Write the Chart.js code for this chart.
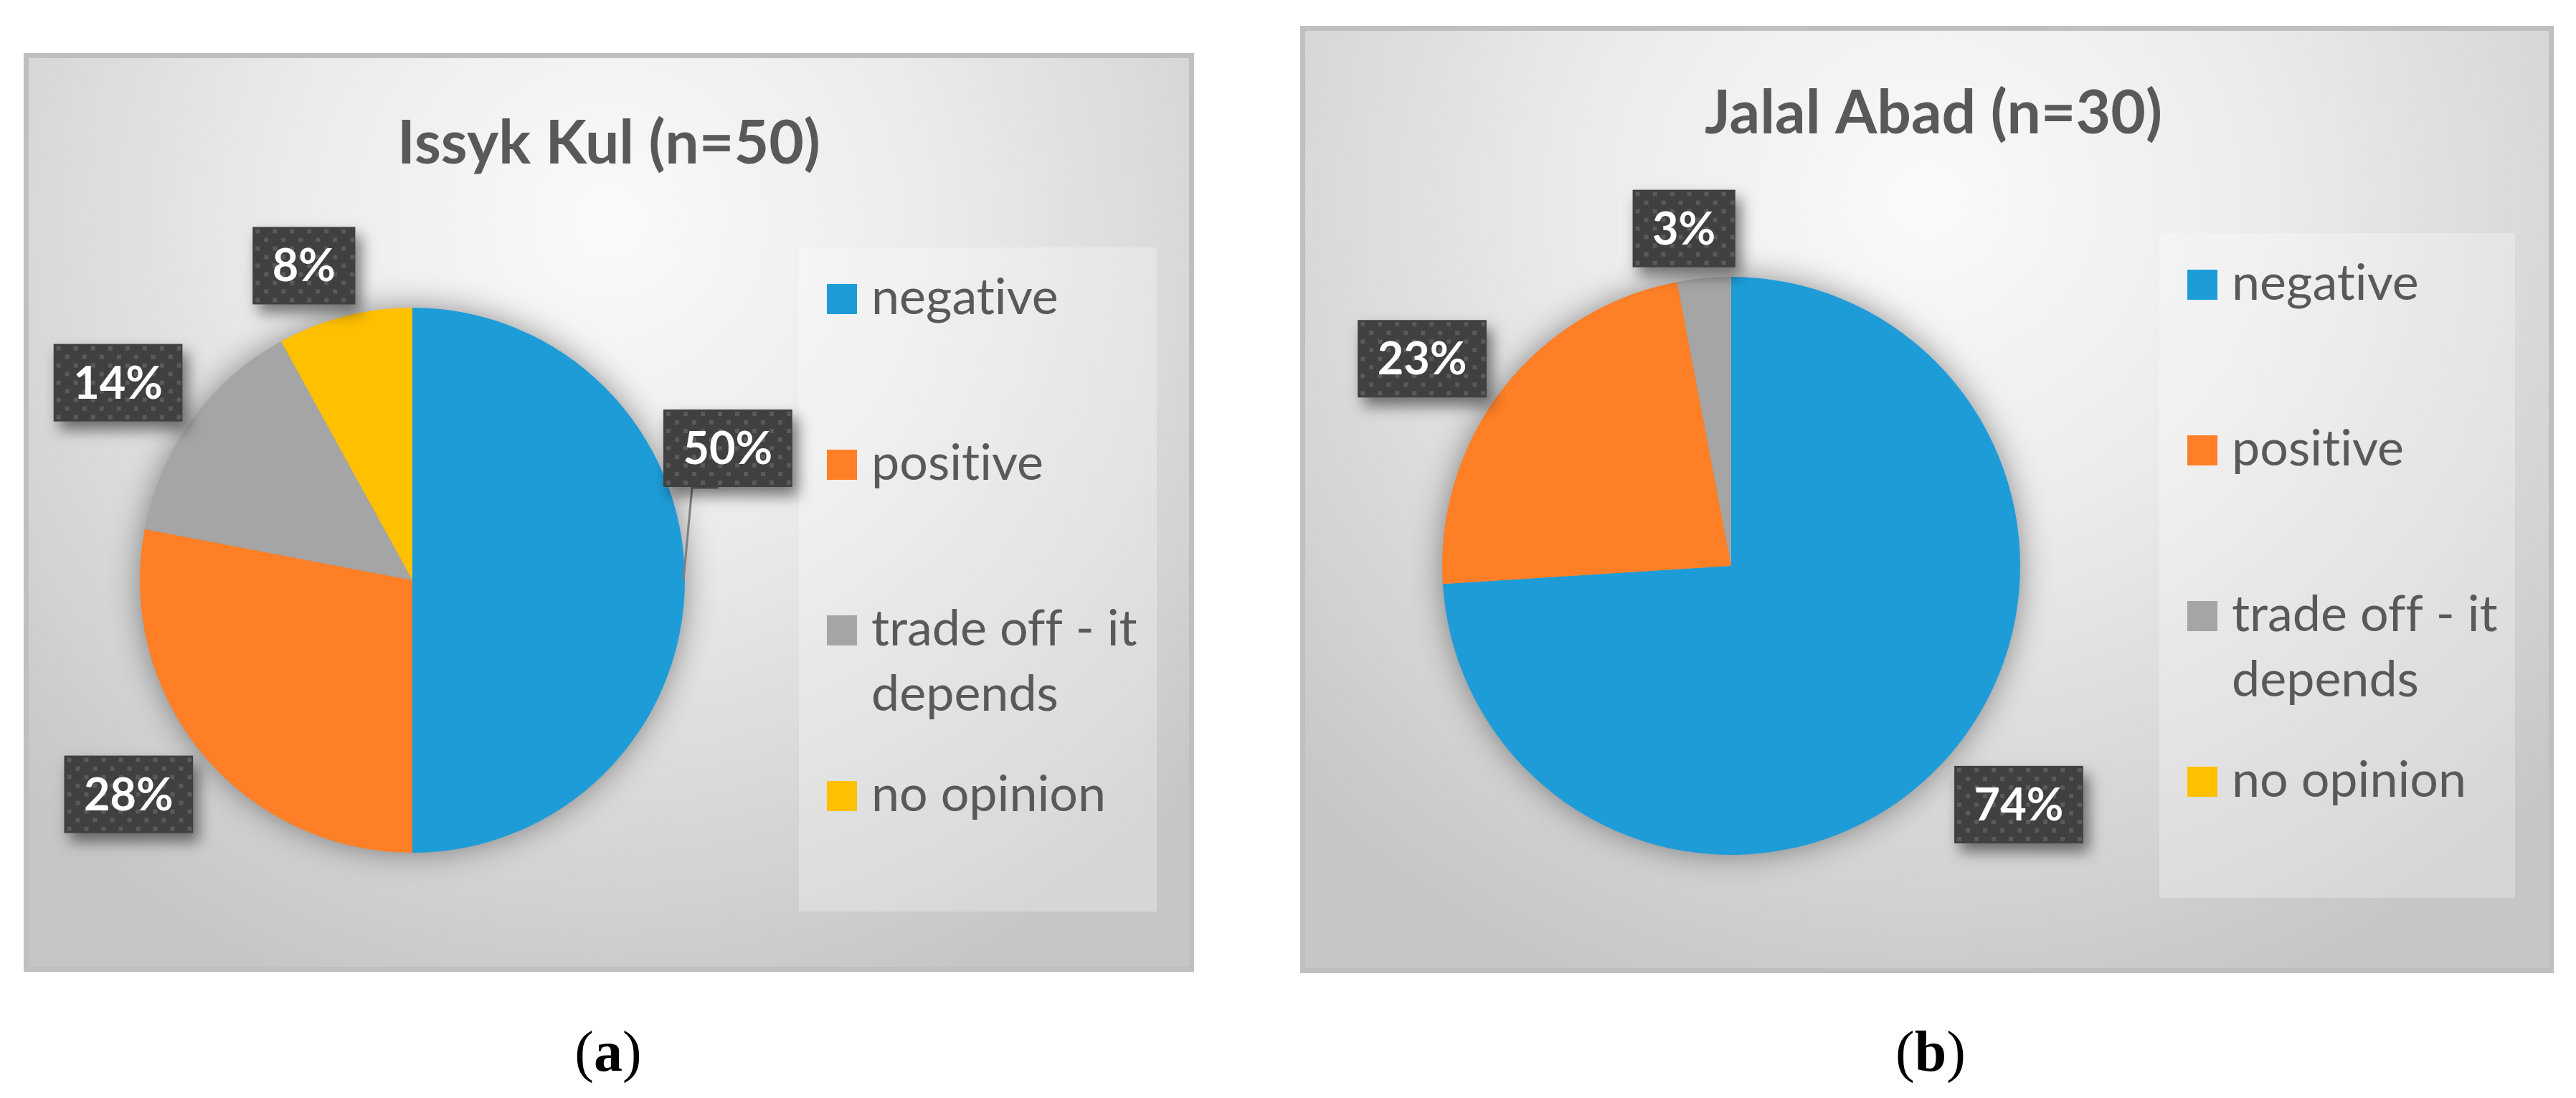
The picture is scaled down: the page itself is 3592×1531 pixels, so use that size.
<!DOCTYPE html>
<html>
<head>
<meta charset="utf-8">
<script src="https://cdn.jsdelivr.net/npm/chart.js@4.4.1/dist/chart.umd.min.js"></script>
<style>
  html, body { margin: 0; padding: 0; background: #fff; }
  body { width: 3592px; height: 1531px; position: relative; overflow: hidden; }
  .panel {
    position: absolute; box-sizing: border-box; border: 7px solid #bfbfbf;
    background: radial-gradient(ellipse 70% 90% at 50% 18%, #fafafa 0%, #ebebeb 40%, #d3d3d3 80%, #c6c6c6 100%);
  }
  .panel .inner { position: absolute; left: 0; top: 0; right: 0; bottom: 0; }
  .sub {
    position: absolute; width: 400px; text-align: center; color: #000;
    font-family: "Liberation Serif", serif; font-size: 80px; line-height: 80px;
  }
</style>
</head>
<body>
<div class="panel" style="left:33px;top:74px;width:1632px;height:1281px"><div class="inner"><canvas id="chartA"></canvas></div></div>
<div class="panel" style="left:1813px;top:36px;width:1748px;height:1321px"><div class="inner"><canvas id="chartB"></canvas></div></div>
<div class="sub" style="left:648px;top:1426px">(<b>a</b>)</div>
<div class="sub" style="left:2492px;top:1426px">(<b>b</b>)</div>

<script>
// données
const categories = ['negative', 'positive', 'trade off - it depends', 'no opinion'];
const issykKulValues = [50, 28, 14, 8];
const jalalAbadValues = [74, 23, 3, 0];
const sliceColors = ['#1e9cd8', '#fe7f26', '#a5a5a5', '#ffc000'];
const chartTitles = ['Issyk Kul (n=50)', 'Jalal Abad (n=30)'];

const textGrey = '#595959';

// motif "pointillé" des étiquettes
const dotTile = document.createElement('canvas');
dotTile.width = 24; dotTile.height = 24;
(function () {
    const g = dotTile.getContext('2d');
    g.fillStyle = '#404040';
    g.fillRect(0, 0, 24, 24);
    g.fillStyle = '#5a5a5a';
    g.fillRect(4, 3, 6, 6);
    g.fillRect(16, 15, 6, 6);
})();

// pas de ligature "ti" (Lato) : on casse la ligature au dessin
function noLig(s) {
    return s.replace(/t(?=i)/g, 't\u200C').replace(/f(?=f|i|l)/g, 'f\u200C');
}

function wrapText(ctx, text, maxWidth) {
    const words = text.split(' ');
    const lines = [];
    let line = '';
    words.forEach(w => {
        const test = line ? line + ' ' + w : w;
        if (ctx.measureText(test).width > maxWidth && line) {
            lines.push(line);
            line = w;
        } else {
            line = test;
        }
    });
    if (line) lines.push(line);
    return lines;
}

const excelDecor = {
    id: 'excelDecor',
    beforeDatasetsDraw(chart, args, opts) {
        const ctx = chart.ctx;
        const first = chart.getDatasetMeta(0).data[0];
        const lb = opts.legendBox;

        ctx.save();
        // fond de la légende
        ctx.fillStyle = 'rgba(255,255,255,0.28)';
        ctx.fillRect(lb.x, lb.y, lb.w, lb.h);

        // ombre du camembert
        ctx.shadowColor = 'rgba(0,0,0,0.45)';
        ctx.shadowBlur = 45;
        ctx.fillStyle = '#9a9a9a';
        ctx.beginPath();
        ctx.arc(first.x, first.y, first.outerRadius - 2, 0, Math.PI * 2);
        ctx.fill();
        ctx.restore();

        // titre
        ctx.save();
        ctx.font = 'bold 84px Lato';
        ctx.fillStyle = textGrey;
        ctx.textAlign = 'center';
        ctx.textBaseline = 'alphabetic';
        ctx.fillText(opts.title, opts.titleX, opts.titleBaseline);
        ctx.restore();
    },
    afterDatasetsDraw(chart, args, opts) {
        const ctx = chart.ctx;
        const ds = chart.data.datasets[0];
        const lb = opts.legendBox;

        // légende
        ctx.save();
        ctx.font = '70px Lato';
        ctx.textAlign = 'left';
        ctx.textBaseline = 'alphabetic';
        chart.data.labels.forEach((label, i) => {
            const yc = lb.y + 72 + i * 231;
            ctx.fillStyle = ds.backgroundColor[i];
            ctx.fillRect(lb.x + 39, yc - 21, 42, 42);
            ctx.fillStyle = textGrey;
            const lines = wrapText(ctx, label, lb.w - 115);
            lines.forEach((ln, k) => ctx.fillText(noLig(ln), lb.x + 101, yc + 21 + k * 91));
        });
        ctx.restore();

        // étiquettes de données
        const meta = chart.getDatasetMeta(0);
        meta.data.forEach((arc, i) => {
            const v = ds.data[i];
            if (!v) return;
            const mid = (arc.startAngle + arc.endAngle) / 2;
            const dx = Math.cos(mid), dy = Math.sin(mid);
            const text = v + '%';
            ctx.save();
            ctx.font = 'bold 63px Lato';
            const bw = ctx.measureText(text).width + 55;
            const bh = 108;
            const support = Math.abs(dx) * bw / 2 + Math.abs(dy) * bh / 2;
            const dist = arc.outerRadius + 13 + support;
            const nudge = (opts.labelNudges && opts.labelNudges[i]) || [0, 0];
            const cx = arc.x + dx * dist + nudge[0];
            const cy = arc.y + dy * dist + nudge[1];
            const bx = cx - bw / 2, by = cy - bh / 2;

            if (Math.hypot(nudge[0], nudge[1]) > 80) {
                // ligne de rappel
                ctx.strokeStyle = '#7f7f7f';
                ctx.lineWidth = 3;
                ctx.beginPath();
                ctx.moveTo(bx + 77, by + bh + 1);
                ctx.lineTo(bx + 40, by + bh + 1);
                ctx.lineTo(arc.x + dx * arc.outerRadius - 2, arc.y + dy * arc.outerRadius);
                ctx.stroke();
            }

            const pat = ctx.createPattern(dotTile, 'repeat');
            pat.setTransform(new DOMMatrix().translate(bx, by));
            ctx.shadowColor = 'rgba(0,0,0,0.5)';
            ctx.shadowBlur = 20;
            ctx.shadowOffsetX = 8;
            ctx.shadowOffsetY = 12;
            ctx.fillStyle = pat;
            ctx.fillRect(bx, by, bw, bh);
            ctx.shadowColor = 'transparent';

            ctx.fillStyle = '#ffffff';
            ctx.textAlign = 'center';
            ctx.textBaseline = 'alphabetic';
            ctx.fillText(text, cx, cy + 22);
            ctx.restore();
        });
    }
};

function makePie(canvasId, values, title, layout) {
    const ctx = document.getElementById(canvasId).getContext('2d');
    return new Chart(ctx, {
        type: 'pie',
        data: {
            labels: categories,
            datasets: [{
                data: values,
                backgroundColor: sliceColors,
                borderWidth: 0,
                hoverOffset: 0,
                radius: layout.radius
            }]
        },
        options: {
            responsive: true,
            maintainAspectRatio: false,
            animation: false,
            events: [],
            layout: { padding: layout.padding },
            plugins: {
                legend: { display: false },
                tooltip: { enabled: false },
                title: { display: false },
                excelDecor: {
                    title: title,
                    titleX: layout.titleX,
                    titleBaseline: layout.titleBaseline,
                    legendBox: layout.legendBox,
                    labelNudges: layout.labelNudges
                }
            }
        },
        plugins: [excelDecor]
    });
}

makePie('chartA', issykKulValues, chartTitles[0], {
    radius: 380,
    padding: { left: 155, top: 348, right: 703, bottom: 159 },
    titleX: 809,
    titleBaseline: 147,
    legendBox: { x: 1074, y: 264, w: 499, h: 926 },
    labelNudges: [[-43, -184], [-13, -18], [-8, 17], [-36, 10]]
});

makePie('chartB', jalalAbadValues, chartTitles[1], {
    radius: 403,
    padding: { left: 191, top: 343, right: 737, bottom: 158 },
    titleX: 876,
    titleBaseline: 143,
    legendBox: { x: 1191, y: 282, w: 496, h: 927 },
    labelNudges: [[23, -22], [-20, 30], [-21, 4]]
});
</script>
</body>
</html>
